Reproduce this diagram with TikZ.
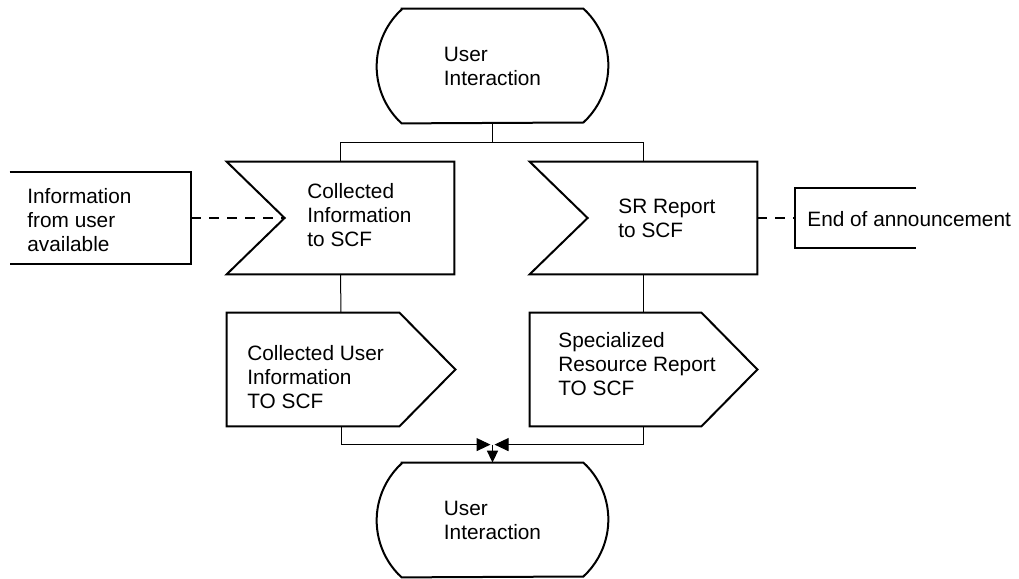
\documentclass[tikz,border=0pt]{standalone}
\usepackage{fontspec}
\setmainfont{Liberation Sans}
\usetikzlibrary{arrows.meta, positioning, calc}

\begin{document}
\begin{tikzpicture}[
    x=0.5pt, y=0.5pt,
    font=\fontsize{10.4pt}{12pt}\selectfont,
    % --- Invisible boxes that carry the shapes ---
    state box/.style={
        minimum width=90.5pt,
        minimum height=57pt,
        inner sep=0pt,
        align=left
    },
    signal box/.style={
        minimum width=113.5pt,
        minimum height=56pt,
        inner sep=0pt
    },
    % --- Texts placed inside the shapes ---
    box text/.style={
        anchor=west,
        align=left,
        inner sep=0pt
    },
    % --- Lines ---
    outline/.style={
        line width=1pt,
        line join=miter
    },
    link/.style={
        line width=0.5pt
    },
    dash link/.style={
        line width=1pt,
        dash pattern=on 5pt off 4pt
    },
    join arrow/.style={
        -{Triangle[length=7pt, width=6.5pt]},
        shorten >=1pt
    }
]

    \useasboundingbox (0,0) rectangle (1019,579);

    % =========================================
    % 1. STATES
    % =========================================
    \node[state box] (topState) at (492.5, 513) {User\\Interaction};
    \node[state box] (botState) at (492.5, 59) {User\\Interaction};

    \foreach \s in {topState, botState}
        \draw[outline] (\s.north west) -- (\s.north east)
            arc[start angle=47.3, end angle=-47.3, radius=38.75pt]
            -- (\s.south west)
            arc[start angle=227.3, end angle=132.7, radius=38.75pt] -- cycle;

    % =========================================
    % 2. RECEIVED SIGNALS
    % =========================================
    \node[signal box] (recvA) at (340.5, 361) {};
    \node[signal box] (recvB) at (643.5, 361) {};

    \foreach \r in {recvA, recvB}
        \draw[outline] (\r.north west) -- (\r.north east) -- (\r.south east)
            -- (\r.south west) -- ([xshift=29pt]\r.west) -- cycle;

    \coordinate (recvAnotch) at ([xshift=29pt]recvA.west);

    \node[box text] (recvAtext) at (307, 364) {Collected\\Information\\to SCF};
    \node[box text] (recvBtext) at (618, 360.5) {SR Report\\to SCF};

    % =========================================
    % 3. SENT SIGNALS
    % =========================================
    \node[signal box, minimum width=114pt, minimum height=56.5pt] (sendA) at (341, 209.5) {};
    \node[signal box, minimum height=56.5pt] (sendB) at (643.5, 209.5) {};

    \foreach \s in {sendA, sendB}
        \draw[outline] (\s.north west) -- ([xshift=-28pt]\s.north east) -- (\s.east)
            -- ([xshift=-28pt]\s.south east) -- (\s.south west) -- cycle;

    \node[box text] (sendAtext) at (247, 202) {Collected User\\Information\\TO SCF};
    \node[box text] (sendBtext) at (558, 215) {Specialized\\Resource Report\\TO SCF};

    % =========================================
    % 4. CONDITIONS (open boxes)
    % =========================================
    \node[minimum width=90.5pt, minimum height=46pt, inner sep=0pt] (infoCond) at (100.5, 361) {};
    \node[minimum width=60.5pt, minimum height=30pt, inner sep=0pt] (endCond) at (855.5, 361) {};

    \draw[outline] (infoCond.north west) -- (infoCond.north east)
        -- (infoCond.south east) -- (infoCond.south west);
    \draw[outline] (endCond.north east) -- (endCond.north west)
        -- (endCond.south west) -- (endCond.south east);

    \node[box text] (infoText) at (27, 359) {Information\\from user\\available};
    \node[box text] (endText) at (807, 360) {End of announcement};

    \draw[dash link] (infoCond.east) -- (recvAnotch);
    \draw[dash link] (recvB.east) -- (endCond.west);

    % =========================================
    % 5. CONNECTIONS
    % =========================================
    \coordinate (split) at ([yshift=-9.5pt]topState.south);
    \coordinate (merge) at ([yshift=9pt]botState.north);

    \draw[line width=0.9pt] (topState.south) -- (split);
    \draw[link] (split) -| (recvA.north);
    \draw[link] (split) -| (recvB.north);

    \draw[link] (recvA.south) -- (sendA.north);
    \draw[link] (recvB.south) -- (sendB.north);

    \draw[link, join arrow] (sendA.south) |- (merge);
    \draw[link, join arrow] (sendB.south) |- (merge);
    \draw[line width=0.8pt, -{Triangle[length=6pt, width=5.5pt]}] (merge) -- (botState.north);

\end{tikzpicture}
\end{document}
